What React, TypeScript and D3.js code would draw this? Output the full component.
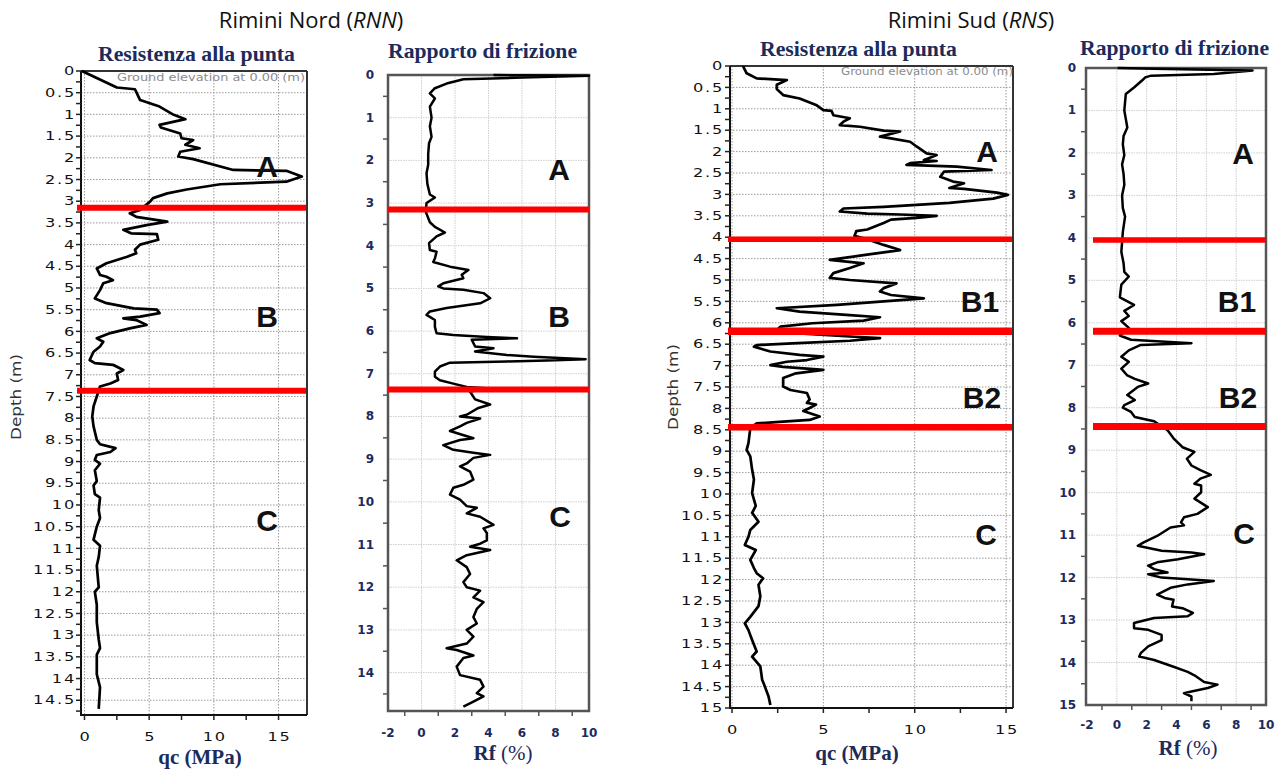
import React from 'react';
import * as d3 from 'd3';

type Pt = [number, number]; // [depth (m), value]

// ---------------- DATA ----------------
const rnnQc: Pt[] = [
  [0, -0.2], [0.38, 2.5], [0.42, 3.9], [0.67, 4.3], [0.82, 5.8], [1.01, 6.9], [1.11, 7.8], [1.24, 5.8], [1.3, 5.9],
  [1.44, 7.4], [1.55, 7.5], [1.59, 8.4], [1.7, 7.8], [1.78, 8.9], [1.86, 7.4], [1.97, 7.25], [2.03, 8.4], [2.28, 11.5],
  [2.3, 15.6], [2.43, 16.8], [2.55, 15.6], [2.61, 10.5], [2.73, 7.9], [2.82, 6.4], [2.93, 5.3], [3.0, 5.1], [3.2, 4.3],
  [3.28, 3.5], [3.36, 4.0], [3.47, 6.4], [3.55, 4.8], [3.66, 3.0], [3.74, 3.6], [3.76, 5.6], [3.89, 5.7], [4.0, 4.3],
  [4.12, 3.9], [4.2, 4.0], [4.28, 3.3], [4.43, 1.7], [4.55, 0.95], [4.7, 1.2], [4.74, 1.7], [4.82, 2.2], [4.89, 1.45],
  [5.05, 1.2], [5.24, 0.8], [5.35, 1.7], [5.47, 3.8], [5.5, 5.6], [5.58, 5.8], [5.66, 4.3], [5.7, 3.0], [5.74, 4.0],
  [5.85, 4.8], [5.93, 3.5], [6.04, 2.0], [6.16, 0.95], [6.24, 1.45], [6.35, 1.2], [6.47, 0.7], [6.66, 0.4], [6.73, 0.8],
  [6.77, 2.2], [6.89, 3.0], [6.97, 2.5], [7.12, 2.6], [7.2, 2.0], [7.27, 1.2], [7.5, 0.95], [7.73, 0.7], [7.96, 0.6],
  [8.19, 0.7], [8.5, 0.95], [8.6, 1.2], [8.69, 2.4], [8.78, 2.0], [8.85, 0.95], [8.96, 0.8], [9.05, 1.2], [9.2, 0.8],
  [9.45, 0.95], [9.55, 0.7], [9.75, 0.8], [9.83, 1.2], [10.12, 1.1], [10.3, 1.2], [10.5, 0.95], [10.8, 0.7], [10.94, 1.2],
  [11.2, 1.1], [11.4, 0.95], [11.9, 1.1], [12.0, 0.8], [12.3, 0.95], [12.7, 0.95], [13.1, 1.1], [13.3, 1.2], [13.45, 0.95],
  [13.9, 0.95], [14.2, 1.2], [14.7, 1.1],
];

const rnnRf: Pt[] = [
  [0, 4.3], [0.02, 10.0], [0.06, 6.0], [0.1, 2.5], [0.2, 1.5], [0.31, 0.8], [0.43, 0.5], [0.55, 0.8], [0.74, 0.5],
  [1.0, 0.6], [1.2, 0.5], [1.45, 0.6], [1.6, 0.45], [1.85, 0.4], [2.1, 0.4], [2.3, 0.3], [2.55, 0.35], [2.8, 0.5],
  [2.87, 0.8], [3.0, 0.3], [3.2, 0.25], [3.45, 0.5], [3.56, 0.8], [3.69, 1.4], [3.78, 0.9], [3.94, 0.45], [4.1, 0.5],
  [4.14, 0.9], [4.3, 0.8], [4.38, 0.7], [4.49, 1.7], [4.57, 2.8], [4.68, 2.4], [4.76, 2.5], [4.88, 1.3], [4.95, 1.0],
  [5.0, 1.3], [5.03, 2.5], [5.11, 3.7], [5.23, 4.1], [5.35, 3.5], [5.46, 1.5], [5.54, 0.5], [5.62, 0.3], [5.74, 0.8],
  [5.9, 0.8], [6.05, 0.9], [6.09, 1.9], [6.14, 3.9], [6.17, 5.7], [6.2, 3.0], [6.36, 3.2], [6.4, 4.3], [6.48, 3.2],
  [6.56, 5.1], [6.6, 6.7], [6.66, 9.8], [6.69, 7.5], [6.71, 5.1], [6.74, 1.7], [6.83, 1.1], [6.95, 0.8], [7.07, 0.8],
  [7.15, 1.1], [7.23, 1.9], [7.31, 2.7], [7.34, 3.9], [7.42, 2.9], [7.6, 3.2], [7.72, 4.1], [7.8, 3.4], [7.96, 2.7],
  [8.0, 2.3], [8.05, 3.5], [8.15, 2.7], [8.23, 2.3], [8.34, 1.7], [8.51, 3.1], [8.55, 2.3], [8.67, 1.3], [8.78, 1.9],
  [8.85, 3.1], [8.9, 4.1], [8.97, 3.1], [9.1, 2.7], [9.17, 2.3], [9.29, 2.9], [9.48, 3.1], [9.6, 2.5], [9.67, 1.9],
  [9.83, 1.7], [9.95, 2.3], [10.1, 2.7], [10.14, 3.3], [10.27, 2.7], [10.35, 3.5], [10.54, 4.3], [10.62, 3.7],
  [10.73, 3.9], [10.9, 3.9], [10.98, 3.5], [11.05, 2.9], [11.13, 4.1], [11.25, 2.7], [11.37, 2.1], [11.53, 2.7],
  [11.69, 2.9], [11.88, 2.5], [12.0, 2.7], [12.08, 3.5], [12.24, 3.1], [12.35, 3.7], [12.51, 3.3], [12.7, 3.1],
  [12.85, 3.3], [13.0, 2.7], [13.16, 3.1], [13.32, 2.7], [13.43, 1.5], [13.47, 2.1], [13.6, 3.1], [13.66, 2.5],
  [13.86, 2.1], [14.06, 2.3], [14.17, 3.5], [14.33, 3.7], [14.48, 3.3], [14.56, 3.7], [14.68, 3.1], [14.8, 2.5],
];

const rnsQc: Pt[] = [
  [0, 0.6], [0.17, 0.8], [0.29, 1.35], [0.33, 3.0], [0.44, 2.45], [0.54, 2.45], [0.68, 2.8], [0.76, 3.7], [0.91, 4.6],
  [1.03, 5.0], [1.05, 5.45], [1.15, 5.55], [1.22, 6.45], [1.3, 6.1], [1.38, 5.9], [1.42, 7.0], [1.51, 8.3], [1.53, 9.2],
  [1.65, 8.1], [1.69, 8.7], [1.77, 9.75], [1.88, 10.1], [2.04, 10.65], [2.08, 11.2], [2.2, 10.5], [2.22, 11.2],
  [2.27, 9.75], [2.31, 9.55], [2.35, 12.3], [2.43, 14.2], [2.47, 11.6], [2.59, 11.4], [2.7, 12.1], [2.74, 12.7],
  [2.85, 11.9], [2.87, 12.7], [2.96, 14.5], [3.01, 15.1], [3.1, 14.3], [3.2, 11.9], [3.29, 8.3], [3.33, 6.1], [3.4, 5.9],
  [3.45, 7.4], [3.47, 9.2], [3.5, 11.2], [3.55, 10.1], [3.59, 8.7], [3.67, 8.3], [3.82, 7.4], [3.86, 6.8], [3.97, 6.7],
  [4.05, 7.4], [4.18, 8.3], [4.3, 9.2], [4.42, 7.2], [4.53, 5.35], [4.61, 7.2], [4.72, 6.45], [4.84, 5.55], [4.95, 5.35],
  [5.0, 6.45], [5.08, 9.0], [5.19, 8.3], [5.27, 8.1], [5.35, 8.7], [5.43, 10.5], [5.5, 8.3], [5.58, 5.75], [5.66, 2.45],
  [5.74, 3.7], [5.82, 6.45], [5.87, 8.1], [5.95, 7.2], [6.01, 4.4], [6.09, 2.65], [6.17, 2.45], [6.25, 3.7], [6.32, 6.45],
  [6.36, 8.1], [6.42, 6.45], [6.48, 3.3], [6.52, 1.35], [6.56, 1.2], [6.67, 2.1], [6.75, 3.7], [6.79, 5.0], [6.87, 4.1],
  [6.91, 3.0], [6.99, 2.1], [7.03, 2.8], [7.1, 5.0], [7.18, 3.5], [7.29, 2.8], [7.49, 2.8], [7.57, 3.2], [7.64, 4.1],
  [7.79, 4.25], [7.87, 4.1], [7.91, 4.6], [7.99, 4.25], [8.06, 3.9], [8.19, 4.8], [8.27, 4.25], [8.31, 2.8], [8.35, 1.35],
  [8.46, 1.0], [8.81, 0.9], [8.97, 0.8], [9.12, 1.0], [9.43, 1.1], [9.66, 1.2], [9.98, 1.1], [10.28, 1.3], [10.44, 1.1],
  [10.65, 1.45], [10.84, 1.0], [11.0, 0.9], [11.19, 0.7], [11.31, 1.3], [11.54, 1.0], [11.73, 1.2], [11.85, 1.35],
  [11.97, 1.7], [12.12, 1.45], [12.39, 1.55], [12.62, 1.45], [12.87, 1.0], [13.02, 0.7], [13.18, 0.9], [13.41, 1.1],
  [13.68, 1.35], [13.8, 1.1], [14.03, 1.55], [14.34, 1.65], [14.5, 1.8], [14.73, 2.0], [14.93, 2.1],
];

const rnsRf: Pt[] = [
  [0, 0.05], [0.02, 2.5], [0.06, 9.1], [0.14, 6.5], [0.18, 2.3], [0.22, 1.9], [0.26, 1.8], [0.46, 1.15], [0.61, 0.6],
  [1.0, 0.5], [1.2, 0.6], [1.4, 0.7], [1.6, 0.45], [1.8, 0.4], [2.05, 0.5], [2.27, 0.35], [2.5, 0.45], [2.75, 0.5],
  [3.0, 0.35], [3.3, 0.4], [3.5, 0.55], [3.86, 0.4], [4.1, 0.35], [4.33, 0.3], [4.6, 0.45], [4.8, 0.5], [4.91, 0.8],
  [5.1, 0.3], [5.4, 0.2], [5.58, 1.15], [5.72, 0.5], [5.84, 0.8], [5.96, 0.3], [6.12, 0.8], [6.3, 0.2], [6.4, 0.95],
  [6.48, 5.0], [6.52, 1.6], [6.65, 0.8], [6.8, 0.3], [6.92, 0.8], [7.08, 0.3], [7.24, 0.7], [7.32, 1.2], [7.43, 2.1],
  [7.51, 1.4], [7.7, 0.7], [7.82, 1.2], [7.94, 0.5], [8.0, 0.4], [8.1, 0.95], [8.22, 1.2], [8.32, 2.5], [8.53, 3.4],
  [8.72, 3.8], [8.93, 4.4], [9.04, 5.2], [9.2, 4.7], [9.36, 5.0], [9.47, 5.6], [9.58, 6.3], [9.67, 5.6], [9.79, 5.2],
  [9.83, 5.65], [9.99, 5.65], [10.14, 5.2], [10.34, 6.1], [10.5, 5.4], [10.58, 4.5], [10.7, 4.3], [10.77, 4.5],
  [10.82, 3.6], [11.02, 2.7], [11.17, 1.8], [11.25, 1.4], [11.37, 3.0], [11.41, 5.0], [11.45, 5.85], [11.57, 4.1],
  [11.64, 2.7], [11.72, 2.1], [11.8, 2.5], [11.88, 3.4], [11.92, 2.1], [12.0, 3.0], [12.04, 4.75], [12.08, 6.5],
  [12.16, 4.75], [12.24, 3.6], [12.4, 2.7], [12.48, 3.2], [12.52, 3.8], [12.68, 3.7], [12.72, 4.4], [12.83, 5.1],
  [12.91, 4.75], [12.95, 2.5], [13.07, 1.15], [13.19, 1.15], [13.23, 2.1], [13.35, 3.0], [13.47, 3.0], [13.62, 2.1],
  [13.78, 1.6], [13.86, 1.5], [13.94, 2.5], [14.1, 3.8], [14.22, 4.75], [14.3, 5.2], [14.46, 5.85], [14.52, 6.75],
  [14.6, 6.1], [14.68, 5.0], [14.72, 4.5], [14.8, 5.0], [14.91, 5.0],
];

// layer boundaries (m)
const rnnBounds = [3.15, 7.37];
const rnsBounds = [4.05, 6.2, 8.44];

// zone labels: [label, depth of baseline]
const rnnZones: [string, number][] = [['A', 2.45], ['B', 5.9], ['C', 10.6]];
const rnsZones: [string, number][] = [['A', 2.25], ['B1', 5.75], ['B2', 8.0], ['C', 11.2]];

const qcTicks = [0, 5, 10, 15];
const rfTicks = [-2, 0, 2, 4, 6, 8, 10];

// ---------------- STYLE ----------------
const NAVY = '#1c2a5c';
const SERIF = '"Liberation Serif", "Times New Roman", serif';
const SANS = '"DejaVu Sans", sans-serif';
const ARIAL = '"Liberation Sans", Arial, sans-serif';

type QcCfg = {
  left: number; right: number; top: number; bottom: number;
  xDom: [number, number]; yDom: [number, number];
  labelRight: number; xLabelY: number;
  redX0: number; redW: number[];
  title: [number, number]; axisLabel: [number, number];
  depthLabel: [number, number]; ground: [number, number, number];
  zoneX: number[];
};

type RfCfg = {
  left: number; right: number; top: number; bottom: number;
  xDom: [number, number]; yDom: [number, number];
  labelRight: number; xLabelY: number;
  redX0: number; redW: number[];
  title: [number, number]; axisLabel: [number, number];
  zoneX: number[];
};

function SText(props: { x: number; y: number; anchor?: string; size?: number; sx?: number; fill?: string; ls?: number; children: React.ReactNode; weight?: string | number; family?: string }) {
  const { x, y, anchor = 'middle', size = 12, sx = 1.35, fill = '#111', ls = 1.3, weight = 'normal', family = SANS } = props;
  return (
    <text transform={`translate(${x},${y}) scale(${sx},1)`} textAnchor={anchor} dominantBaseline="central"
      fontFamily={family} fontSize={size} fill={fill} letterSpacing={ls} fontWeight={weight}>
      {props.children}
    </text>
  );
}

function QcPanel({ cfg, data, bounds, zones }: { cfg: QcCfg; data: Pt[]; bounds: number[]; zones: [string, number][] }) {
  const x = d3.scaleLinear().domain(cfg.xDom).range([cfg.left, cfg.right]);
  const y = d3.scaleLinear().domain(cfg.yDom).range([cfg.top, cfg.bottom]);
  const line = d3.line<Pt>().x(d => x(d[1])).y(d => y(d[0]));
  const yMajor = d3.range(0, cfg.yDom[1] + 1e-6, 0.5);
  const yMinor = d3.range(0, cfg.yDom[1] + 1e-6, 0.25);
  const xMinor = d3.range(0, cfg.xDom[1], 2.5);
  return (
    <g>
      {yMajor.map(v => (
        <line key={'gy' + v} x1={cfg.left} x2={cfg.right} y1={y(v)} y2={y(v)} stroke="#9a9a9a" strokeWidth={1} strokeDasharray="1.5,1.5" />
      ))}
      {qcTicks.map(v => (
        <line key={'gx' + v} x1={x(v)} x2={x(v)} y1={cfg.top} y2={cfg.bottom} stroke="#9a9a9a" strokeWidth={1} strokeDasharray="1.5,1.5" />
      ))}
      <line x1={cfg.left} x2={cfg.right} y1={cfg.top} y2={cfg.top} stroke="#333" strokeWidth={2} />
      <line x1={cfg.right} x2={cfg.right} y1={cfg.top} y2={cfg.bottom} stroke="#333" strokeWidth={2} />
      <line x1={cfg.left} x2={cfg.left} y1={cfg.top} y2={cfg.bottom + 1} stroke="#111" strokeWidth={2} />
      <line x1={cfg.left} x2={cfg.right} y1={cfg.bottom} y2={cfg.bottom} stroke="#111" strokeWidth={2} />
      {yMinor.map(v => (
        <line key={'ty' + v} x1={cfg.left - 5} x2={cfg.left} y1={y(v)} y2={y(v)} stroke="#222" strokeWidth={1.5} />
      ))}
      {yMajor.map(v => (
        <SText key={'ly' + v} x={cfg.labelRight} y={y(v)} anchor="end">{String(v)}</SText>
      ))}
      {xMinor.map(v => (
        <line key={'tx' + v} x1={x(v)} x2={x(v)} y1={cfg.bottom} y2={cfg.bottom + 5} stroke="#222" strokeWidth={1.5} />
      ))}
      {qcTicks.map(v => (
        <SText key={'lx' + v} x={x(v) + 1} y={cfg.xLabelY}>{String(v)}</SText>
      ))}
      <text x={cfg.ground[0] - cfg.ground[2]} y={cfg.ground[1]} fontFamily={SANS} fontSize={11} fill="#8c8c8c"
        textLength={cfg.ground[2]} lengthAdjust="spacingAndGlyphs">Ground elevation at 0.00 (m)</text>
      <path d={line(data) || ''} fill="none" stroke="#000" strokeWidth={2.7} strokeLinejoin="round" />
      {bounds.map((b, i) => (
        <line key={'rb' + i} x1={cfg.redX0} x2={cfg.right - 1} y1={y(b)} y2={y(b)} stroke="#ff0000" strokeWidth={cfg.redW[i]} />
      ))}
      {zones.map(([t, d], i) => (
        <text key={'z' + t} x={cfg.zoneX[i]} y={y(d)} textAnchor="middle" fontFamily={ARIAL} fontWeight="bold" fontSize={30} fill="#111">{t}</text>
      ))}
      <text x={cfg.title[0] - 98} y={cfg.title[1]} fontFamily={SERIF} fontWeight="bold" fontSize={21} fill={NAVY}
        textLength={197} lengthAdjust="spacingAndGlyphs">Resistenza alla punta</text>
      <text x={cfg.axisLabel[0]} y={cfg.axisLabel[1]} textAnchor="middle" fontFamily={SERIF} fontWeight="bold" fontSize={21} fill={NAVY}>qc (MPa)</text>
      <text transform={`translate(${cfg.depthLabel[0]},${cfg.depthLabel[1]}) rotate(-90)`} textAnchor="middle" dominantBaseline="central"
        fontFamily={SANS} fontSize={14} fill="#333" textLength={86} lengthAdjust="spacingAndGlyphs">Depth (m)</text>
    </g>
  );
}

function RfPanel({ cfg, data, bounds, zones }: { cfg: RfCfg; data: Pt[]; bounds: number[]; zones: [string, number][] }) {
  const x = d3.scaleLinear().domain(cfg.xDom).range([cfg.left, cfg.right]);
  const y = d3.scaleLinear().domain(cfg.yDom).range([cfg.top, cfg.bottom]);
  const line = d3.line<Pt>().x(d => x(d[1])).y(d => y(d[0]));
  const yInt = d3.range(0, cfg.yDom[1] + 1e-6, 1);
  const yHalf = d3.range(0.5, cfg.yDom[1], 1);
  const xOdd = d3.range(-1, 10, 2);
  return (
    <g>
      {yInt.map(v => (
        <line key={'gy' + v} x1={cfg.left} x2={cfg.right} y1={y(v)} y2={y(v)} stroke="#cfcfcf" strokeWidth={1} strokeDasharray="1.5,1" />
      ))}
      {rfTicks.filter(v => v > cfg.xDom[0] + 0.1 && v < 10).map(v => (
        <line key={'gx' + v} x1={x(v)} x2={x(v)} y1={cfg.top} y2={cfg.bottom} stroke="#cfcfcf" strokeWidth={1} strokeDasharray="1.5,1" />
      ))}
      <rect x={cfg.left} y={cfg.top} width={cfg.right - cfg.left} height={cfg.bottom - cfg.top} fill="none" stroke="#555" strokeWidth={2.5} />
      {yHalf.map(v => (
        <line key={'ty' + v} x1={cfg.left - 5} x2={cfg.left} y1={y(v)} y2={y(v)} stroke="#555" strokeWidth={1.5} />
      ))}
      {yInt.map(v => (
        <SText key={'ly' + v} x={cfg.labelRight} y={y(v)} anchor="end" sx={1} ls={0} size={12} weight="bold" fill={NAVY}>{String(v)}</SText>
      ))}
      {xOdd.map(v => (
        <line key={'tx' + v} x1={x(v)} x2={x(v)} y1={cfg.bottom} y2={cfg.bottom + 5} stroke="#555" strokeWidth={1.5} />
      ))}
      {rfTicks.map(v => (
        <SText key={'lx' + v} x={x(v)} y={cfg.xLabelY} sx={1} ls={0} size={12} weight="bold" fill={NAVY}>{String(v)}</SText>
      ))}
      <path d={line(data) || ''} fill="none" stroke="#000" strokeWidth={2.5} strokeLinejoin="round" />
      {bounds.map((b, i) => (
        <line key={'rb' + i} x1={cfg.redX0} x2={cfg.right} y1={y(b)} y2={y(b)} stroke="#ff0000" strokeWidth={cfg.redW[i]} />
      ))}
      {zones.map(([t, d], i) => (
        <text key={'z' + t} x={cfg.zoneX[i]} y={y(d)} textAnchor="middle" fontFamily={ARIAL} fontWeight="bold" fontSize={30} fill="#111">{t}</text>
      ))}
      <text x={cfg.title[0] - 94} y={cfg.title[1]} fontFamily={SERIF} fontWeight="bold" fontSize={21} fill={NAVY}
        textLength={189} lengthAdjust="spacingAndGlyphs">Rapporto di frizione</text>
      <text x={cfg.axisLabel[0]} y={cfg.axisLabel[1]} textAnchor="middle" fontFamily={SERIF} fontSize={21} fill={NAVY}>
        <tspan fontWeight="bold">Rf</tspan><tspan> (%)</tspan>
      </text>
    </g>
  );
}

const p1: QcCfg = {
  left: 81, right: 307, top: 71, bottom: 715, xDom: [-0.27, 17.2], yDom: [0, 14.84],
  labelRight: 76, xLabelY: 737, redX0: 77, redW: [6, 6],
  title: [196, 61], axisLabel: [200, 764], depthLabel: [16, 397], ground: [305, 81, 188],
  zoneX: [267, 267, 267],
};
const p2: RfCfg = {
  left: 388, right: 589, top: 75, bottom: 711, xDom: [-2, 10], yDom: [0, 14.9],
  labelRight: 374, xLabelY: 733, redX0: 388, redW: [6, 6],
  title: [482, 58], axisLabel: [503, 760], zoneX: [559, 559, 560],
};
const p3: QcCfg = {
  left: 730, right: 1013, top: 66, bottom: 708, xDom: [-0.11, 15.38], yDom: [0, 15],
  labelRight: 724, xLabelY: 730, redX0: 728, redW: [5.5, 7.5, 6.5],
  title: [858, 56], axisLabel: [857, 760], depthLabel: [673, 387], ground: [1013, 75, 172],
  zoneX: [987, 980, 982, 986],
};
const p4: RfCfg = {
  left: 1086, right: 1266, top: 68, bottom: 705, xDom: [-2.07, 10], yDom: [0, 15],
  labelRight: 1076, xLabelY: 725, redX0: 1093, redW: [5.5, 7, 7],
  title: [1174, 55], axisLabel: [1188, 755], zoneX: [1243, 1237, 1238, 1244],
};

export default function App() {
  return (
    <svg width={1286} height={772} viewBox="0 0 1286 772"
      style={{ position: 'absolute', left: 0, top: 0, background: '#fff' }}>
      <rect x={0} y={0} width={1286} height={772} fill="#fff" />
      <text x={311} y={28} textAnchor="middle" fontFamily='"Open Sans", sans-serif' fontSize={22} fill="#111">
        Rimini Nord (<tspan fontStyle="italic">RNN</tspan>)
      </text>
      <text x={971} y={28} textAnchor="middle" fontFamily='"Open Sans", sans-serif' fontSize={22} fill="#111">
        Rimini Sud (<tspan fontStyle="italic">RNS</tspan>)
      </text>
      <QcPanel cfg={p1} data={rnnQc} bounds={rnnBounds} zones={rnnZones} />
      <RfPanel cfg={p2} data={rnnRf} bounds={rnnBounds} zones={rnnZones} />
      <QcPanel cfg={p3} data={rnsQc} bounds={rnsBounds} zones={rnsZones} />
      <RfPanel cfg={p4} data={rnsRf} bounds={rnsBounds} zones={rnsZones} />
    </svg>
  );
}
